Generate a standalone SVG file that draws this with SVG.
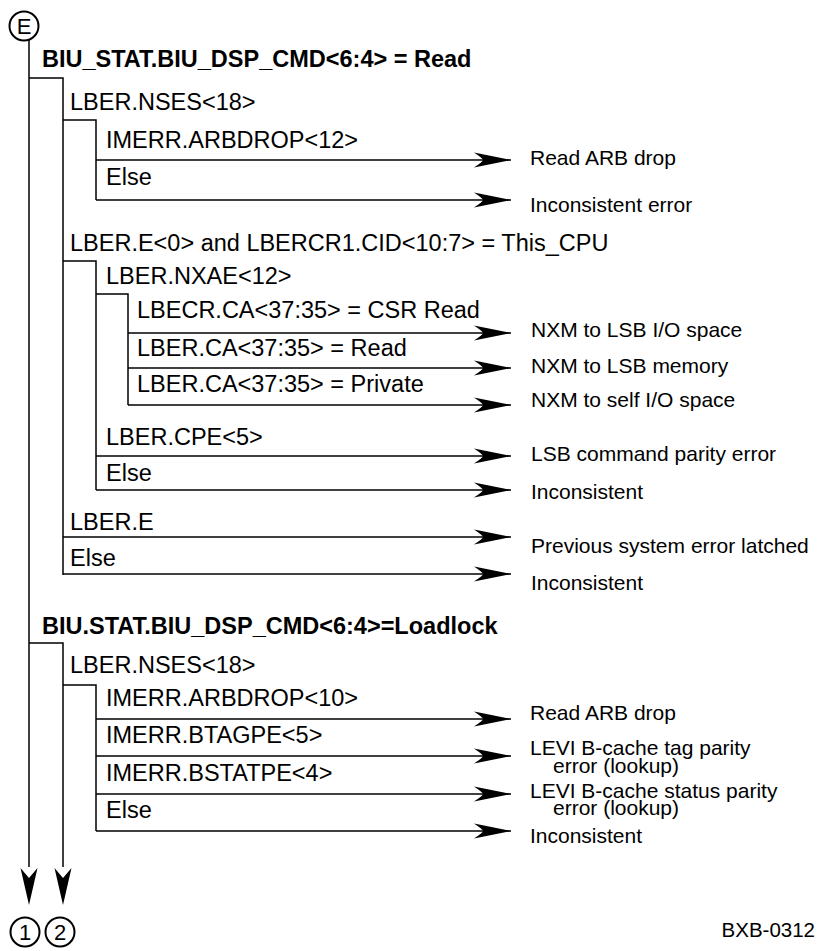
<svg xmlns="http://www.w3.org/2000/svg" width="817" height="951" viewBox="0 0 817 951">
<style>
text{font-family:"Liberation Sans",Arial,sans-serif;fill:#000}
.c{font-size:23.5px}
.b{font-size:23.5px;font-weight:bold}
.s{font-size:21px}
.ln{stroke:#000;stroke-width:1.5;fill:none}
.circ{stroke:#000;stroke-width:2;fill:#fff}
.n{font-size:22px;text-anchor:middle}
</style>
<defs>
<marker id="ah" markerUnits="userSpaceOnUse" markerWidth="40" markerHeight="18" viewBox="-38 -9 40 18" refX="0" refY="0" orient="auto">
<path d="M0,0 L-37,-7.5 Q-28,-1.5 -28,0 Q-28,1.5 -37,7.5 Z" fill="#000"/>
</marker>
</defs>
<g id="connectors">
<path class="ln" d="M29,40 V867"/>
<path class="ln" d="M29,78 H63 V575"/>
<path class="ln" d="M63,120 H96 V200"/>
<path class="ln" d="M63,261 H96 V490"/>
<path class="ln" d="M96,294 H128 V405"/>
<path class="ln" d="M29,643 H63 V867"/>
<path class="ln" d="M63,685 H96 V831"/>
<line class="ln" x1="96" y1="160" x2="511" y2="160" marker-end="url(#ah)"/>
<line class="ln" x1="96" y1="200" x2="511" y2="200" marker-end="url(#ah)"/>
<line class="ln" x1="128" y1="333" x2="511" y2="333" marker-end="url(#ah)"/>
<line class="ln" x1="128" y1="368" x2="511" y2="368" marker-end="url(#ah)"/>
<line class="ln" x1="128" y1="405" x2="511" y2="405" marker-end="url(#ah)"/>
<line class="ln" x1="96" y1="456" x2="511" y2="456" marker-end="url(#ah)"/>
<line class="ln" x1="96" y1="490" x2="511" y2="490" marker-end="url(#ah)"/>
<line class="ln" x1="63" y1="537" x2="511" y2="537" marker-end="url(#ah)"/>
<line class="ln" x1="63" y1="574" x2="511" y2="574" marker-end="url(#ah)"/>
<line class="ln" x1="96" y1="719" x2="511" y2="719" marker-end="url(#ah)"/>
<line class="ln" x1="96" y1="756" x2="511" y2="756" marker-end="url(#ah)"/>
<line class="ln" x1="96" y1="794" x2="511" y2="794" marker-end="url(#ah)"/>
<line class="ln" x1="96" y1="831" x2="511" y2="831" marker-end="url(#ah)"/>
<path d="M29,905 L20.5,868 L29,878 L37.5,868 Z" fill="#000"/>
<path d="M63,905 L54.5,868 L63,878 L71.5,868 Z" fill="#000"/>
</g>
<g id="node-E"><circle class="circ" cx="24" cy="26" r="14.5"/><text class="n" x="24" y="34">E</text></g>
<g id="node-1"><circle class="circ" cx="25" cy="932" r="14.5"/><text class="n" x="25" y="940">1</text></g>
<g id="node-2"><circle class="circ" cx="60" cy="932" r="14.5"/><text class="n" x="60" y="940">2</text></g>
<g id="node-read"><text class="b" x="42" y="67">BIU_STAT.BIU_DSP_CMD&lt;6:4&gt; = Read</text></g>
<g id="node-nses1"><text class="c" x="70" y="110">LBER.NSES&lt;18&gt;</text></g>
<g id="node-arbdrop12"><text class="c" x="106" y="148">IMERR.ARBDROP&lt;12&gt;</text></g>
<g id="node-else1"><text class="c" x="106" y="185">Else</text></g>
<g id="node-lbere0"><text class="c" x="70" y="251">LBER.E&lt;0&gt; and LBERCR1.CID&lt;10:7&gt; = This_CPU</text></g>
<g id="node-nxae"><text class="c" x="106" y="284">LBER.NXAE&lt;12&gt;</text></g>
<g id="node-csr"><text class="c" x="137" y="318">LBECR.CA&lt;37:35&gt; = CSR Read</text></g>
<g id="node-caread"><text class="c" x="137" y="356">LBER.CA&lt;37:35&gt; = Read</text></g>
<g id="node-capriv"><text class="c" x="137" y="392">LBER.CA&lt;37:35&gt; = Private</text></g>
<g id="node-cpe"><text class="c" x="106" y="445">LBER.CPE&lt;5&gt;</text></g>
<g id="node-else2"><text class="c" x="106" y="481">Else</text></g>
<g id="node-lbere"><text class="c" x="70" y="530">LBER.E</text></g>
<g id="node-else3"><text class="c" x="70" y="566">Else</text></g>
<g id="node-loadlock"><text class="b" x="42" y="634">BIU.STAT.BIU_DSP_CMD&lt;6:4&gt;=Loadlock</text></g>
<g id="node-nses2"><text class="c" x="70" y="673">LBER.NSES&lt;18&gt;</text></g>
<g id="node-arbdrop10"><text class="c" x="106" y="706">IMERR.ARBDROP&lt;10&gt;</text></g>
<g id="node-btagpe"><text class="c" x="106" y="743">IMERR.BTAGPE&lt;5&gt;</text></g>
<g id="node-bstatpe"><text class="c" x="106" y="781">IMERR.BSTATPE&lt;4&gt;</text></g>
<g id="node-else4"><text class="c" x="106" y="818">Else</text></g>
<g id="results">
<text class="s" x="530" y="165">Read ARB drop</text>
<text class="s" x="530" y="212">Inconsistent error</text>
<text class="s" x="531" y="337">NXM to LSB I/O space</text>
<text class="s" x="531" y="373">NXM to LSB memory</text>
<text class="s" x="531" y="407">NXM to self I/O space</text>
<text class="s" x="531" y="461">LSB command parity error</text>
<text class="s" x="531" y="499">Inconsistent</text>
<text class="s" x="531" y="553">Previous system error latched</text>
<text class="s" x="531" y="590">Inconsistent</text>
<text class="s" x="530" y="720">Read ARB drop</text>
<text class="s" x="530" y="755">LEVI B-cache tag parity</text>
<text class="s" x="553" y="773">error (lookup)</text>
<text class="s" x="530" y="798">LEVI B-cache status parity</text>
<text class="s" x="553" y="815">error (lookup)</text>
<text class="s" x="530" y="843">Inconsistent</text>
<text class="s" x="815" y="937" text-anchor="end" style="font-size:20.5px">BXB-0312</text>
</g>
</svg>
